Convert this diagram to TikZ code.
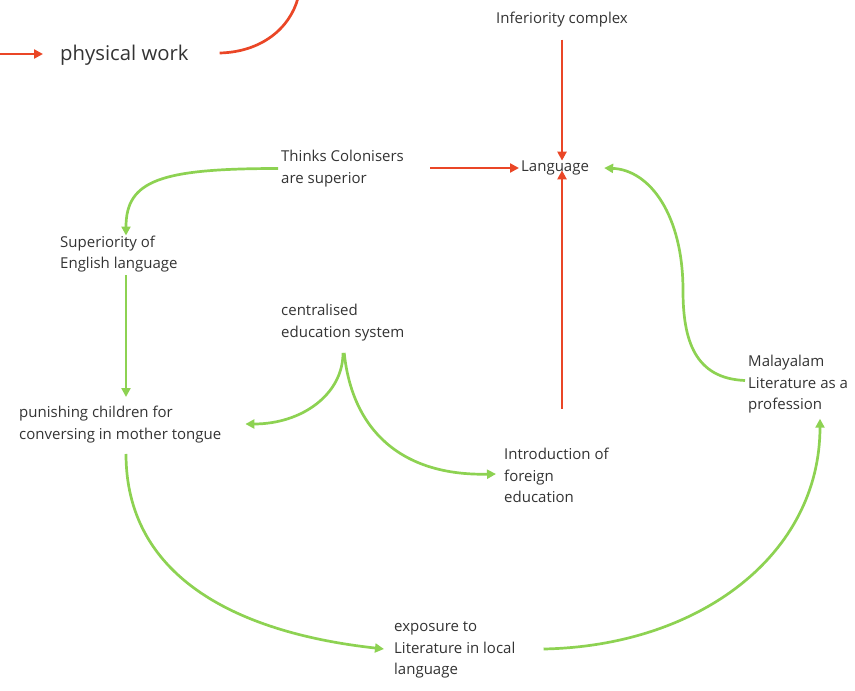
\documentclass[tikz,border=0pt]{standalone}
\usepackage{fontspec}
\setmainfont{Open Sans}
\usetikzlibrary{arrows.meta}
\definecolor{linkred}{RGB}{234,70,38}
\definecolor{linkgreen}{RGB}{141,210,82}
\definecolor{inktext}{RGB}{51,51,51}
\tikzset{
  label/.style={anchor=west, inner sep=0pt, align=left, text=inktext,
    font=\fontsize{15}{21.5}\selectfont},
  redlink/.style={draw=linkred, line width=2.7pt, -{Triangle[length=9pt,width=9pt]}},
  greenlink/.style={draw=linkgreen, line width=2.7pt, -{Triangle[length=9pt,width=9pt]}},
  plainred/.style={draw=linkred, line width=2.7pt},
}
\begin{document}
\begin{tikzpicture}[x=1pt,y=-1pt]
\useasboundingbox (0,0) rectangle (855,691);

% concepts
\node[label] (inf) at (496,20) {Inferiority complex};
\node[label, font=\fontsize{20.3}{24}\selectfont] (phys) at (60,55) {physical work};
\node[label] (tc) at (281,168.5) {Thinks Colonisers\\are superior};
\node[label] (lang) at (521,168) {Language};
\node[label] (sup) at (60,254) {Superiority of\\English language};
\node[label] (cen) at (281,322.5) {centralised\\education system};
\node[label] (pun) at (19,424.5) {punishing children for\\conversing in mother tongue};
\node[label] (intro) at (504,475.5) {Introduction of\\foreign\\education};
\node[label] (mal) at (748,384.5) {Malayalam\\Literature as a\\profession};
\node[label] (exp) at (394,650) {exposure to\\Literature in local\\language};

% loose ends running off the edge
\coordinate (inphys) at (0,54);
\coordinate (outphys) at (298,-2);

% red links
\draw[redlink] (inphys) -- ([xshift=-17pt]phys.west |- inphys);
\draw[plainred] ([xshift=31pt]phys.east |- 0,53) .. controls +(42,-1) and +(-8,30) .. (outphys);
\draw[redlink, shorten <=12pt] (inf.south) -- (inf.south |- lang.north);
\draw[redlink, shorten <=26pt, shorten >=2pt] (tc.east |- lang.west) -- (lang.west);
\draw[redlink, shorten <=39pt, shorten >=-5pt] (intro.north -| inf.south) -- (lang.south -| inf.south);

% green links
\draw[greenlink] ([xshift=-3pt]tc.west) .. controls +(-118,0) and +(0,-55) .. ([xshift=66pt]sup.north west);
\draw[greenlink, shorten <=3pt, shorten >=9pt] ([xshift=66pt]sup.south west) -- ([xshift=107pt]pun.north west);
\draw[greenlink, shorten <=12pt] ([xshift=62pt]cen.south west) .. controls +(0,53) and +(57,0) .. ([xshift=24pt,yshift=0.5pt]pun.east);
\draw[greenlink, shorten <=12pt] ([xshift=62pt]cen.south west) .. controls +(9,88) and +(-96,2) .. ([xshift=-8pt,yshift=1.5pt]intro.west);
\draw[greenlink, shorten <=11pt] ([xshift=107pt]pun.south west) .. controls +(0,130) and +(-154,-17) .. ([xshift=-10pt,yshift=1pt]exp.west);
\draw[greenlink] ([xshift=28pt,yshift=1pt]exp.east) .. controls +(156,-3) and +(0,136) .. ([xshift=72pt,yshift=-5pt]mal.south west);
\draw[greenlink] ([xshift=-3pt,yshift=4pt]mal.west) .. controls +(-50,-2) and +(0,50) .. ([xshift=-65pt,yshift=94pt]mal.west)
  .. controls +(0,-75) and +(46,2) .. ([xshift=15pt]lang.east);
\end{tikzpicture}
\end{document}
